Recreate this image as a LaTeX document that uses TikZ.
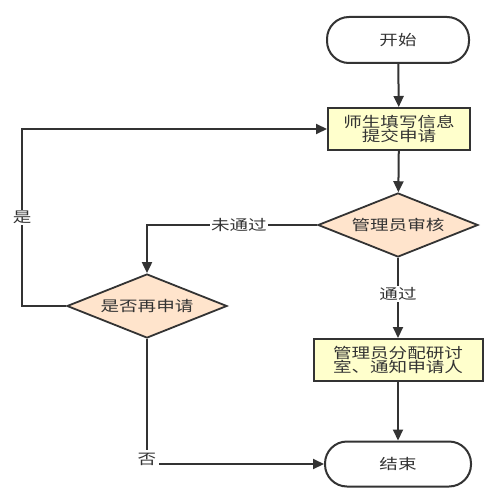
\documentclass[tikz,border=0pt]{standalone}
\usepackage{fontspec}
\setmainfont{Noto Sans CJK SC}[FakeStretch=1.28]
\usepackage{xcolor}
\definecolor{lineColor}{RGB}{51, 51, 51}
\definecolor{stepColor}{RGB}{255, 255, 204}
\definecolor{decColor}{RGB}{255, 228, 204}
\usepackage{tikz}
\usetikzlibrary{arrows.meta, shapes.geometric}

\begin{document}
\begin{tikzpicture}[x=1pt, y=1pt,
    font=\fontsize{14.5}{14}\selectfont, text=lineColor,
    termBox/.style={draw=lineColor, line width=2pt, fill=white, rounded corners=22pt,
        minimum width=142pt, minimum height=46pt},
    stepBox/.style={draw=lineColor, line width=2pt, fill=stepColor, align=center,
        minimum height=42pt, inner sep=2pt},
    decBox/.style={draw=lineColor, line width=1.8pt, fill=decColor, diamond, aspect=2.5,
        minimum width=160pt, minimum height=64pt, inner sep=0pt},
    flowLine/.style={draw=lineColor, line width=2pt, -{Triangle[length=11pt, width=10pt]}},
    edgeLabel/.style={fill=white, inner sep=1pt}]
    \useasboundingbox (0,0) rectangle (500,-503);
    \node[termBox] (start) at (398,-40) {开始};
    \node[stepBox, minimum width=142pt] (fill) at (399,-129) {师生填写信息\\提交申请};
    \node[decBox] (check) at (398,-225) {管理员审核};
    \node[stepBox, minimum width=169pt] (assign) at (398,-360) {管理员分配研讨\\室、通知申请人};
    \node[termBox, minimum width=146pt, minimum height=45pt] (stop) at (398,-464) {结束};
    \node[decBox] (again) at (147,-306) {是否再申请};
    \draw[flowLine] (start) -- (fill);
    \draw[flowLine] (fill) -- (check);
    \draw[flowLine] (check) -- node[edgeLabel, pos=0.45] {通过} (assign);
    \draw[flowLine] (assign) -- (stop);
    \draw[flowLine] (check.west) -| node[edgeLabel, pos=0.23] {未通过} (again.north);
    \draw[flowLine] (again.west) -- ++(-44,0) |- node[edgeLabel, pos=0.25] {是} (fill.west);
    \draw[flowLine] (again.south) |- node[edgeLabel, pos=0.5, yshift=5pt, inner sep=3pt] {否} (stop.west);
\end{tikzpicture}
\end{document}
